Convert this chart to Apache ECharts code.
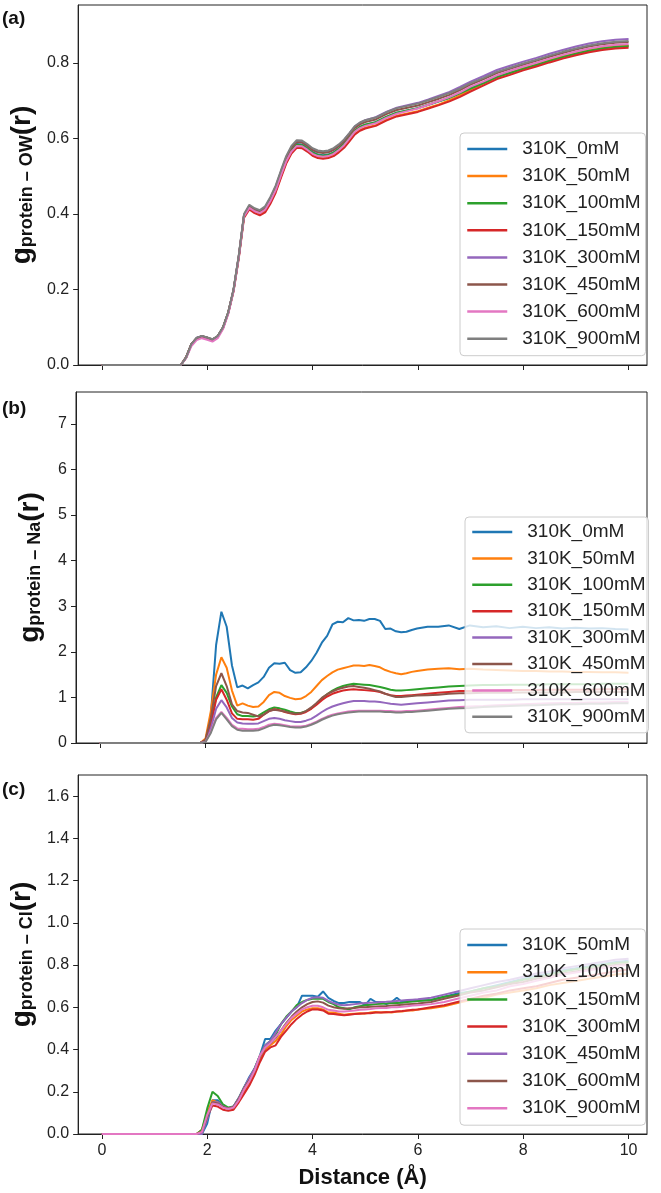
<!DOCTYPE html>
<html><head><meta charset="utf-8">
<script src="https://cdn.jsdelivr.net/npm/echarts@6/dist/echarts.min.js"></script>
<style>html,body{margin:0;padding:0;background:#fff}#c{width:661px;height:1193px}</style>
</head><body><div id="c"></div>
<script>
// ---------- DATA ----------
const seriesColors = ['#1f77b4','#ff7f0e','#2ca02c','#d62728','#9467bd','#8c564b','#e377c2','#7f7f7f'];
const xTicks = [0, 2, 4, 6, 8, 10];
const yTicksA = [0, 0.2, 0.4, 0.6, 0.8];
const yTicksB = [0, 1, 2, 3, 4, 5, 6, 7];
const yTicksC = [0, 0.2, 0.4, 0.6, 0.8, 1.0, 1.2, 1.4, 1.6];

// (a) protein - OW
const namesA = ['310K_0mM','310K_50mM','310K_100mM','310K_150mM','310K_300mM','310K_450mM','310K_600mM','310K_900mM'];
const distA = [0, 1.5,
  1.6, 1.7, 1.8, 1.9, 2.0, 2.1, 2.2, 2.3,
  2.4, 2.5, 2.6, 2.7, 2.8, 2.9, 3.0, 3.1, 3.2, 3.3,
  3.4, 3.5, 3.6, 3.7, 3.8, 3.9, 4.0, 4.1, 4.2, 4.3,
  4.4, 4.5, 4.6, 4.7, 4.8, 4.9, 5.0,
  5.2, 5.4, 5.6, 5.8, 6.0, 6.2, 6.4, 6.6, 6.8, 7.0,
  7.25, 7.5, 7.75, 8.0, 8.25, 8.5, 8.75, 9.0, 9.25, 9.5, 9.75, 10.0];
const ow0mM = [0, 0,
  0.02, 0.055, 0.071, 0.076, 0.072, 0.067, 0.076, 0.099,
  0.139, 0.198, 0.287, 0.396, 0.419, 0.409, 0.403, 0.412, 0.436, 0.465,
  0.505, 0.543, 0.570, 0.585, 0.584, 0.575, 0.564, 0.557, 0.555, 0.557,
  0.563, 0.573, 0.586, 0.602, 0.620, 0.630, 0.636,
  0.643, 0.657, 0.668, 0.674, 0.680, 0.689, 0.698, 0.708, 0.720, 0.733,
  0.747, 0.763, 0.774, 0.785, 0.795, 0.806, 0.816, 0.825, 0.833, 0.839, 0.843, 0.845];
const ow50mM = [0, 0,
  0.02, 0.055, 0.071, 0.076, 0.072, 0.067, 0.076, 0.099,
  0.139, 0.198, 0.287, 0.395, 0.417, 0.407, 0.400, 0.408, 0.431, 0.460,
  0.499, 0.536, 0.563, 0.578, 0.577, 0.568, 0.557, 0.551, 0.549, 0.551,
  0.557, 0.566, 0.578, 0.594, 0.612, 0.622, 0.628,
  0.635, 0.649, 0.660, 0.666, 0.672, 0.681, 0.690, 0.701, 0.714, 0.729,
  0.745, 0.762, 0.773, 0.785, 0.795, 0.806, 0.816, 0.825, 0.833, 0.839, 0.843, 0.845];
const ow100mM = [0, 0,
  0.02, 0.055, 0.071, 0.076, 0.072, 0.067, 0.076, 0.099,
  0.139, 0.198, 0.287, 0.396, 0.419, 0.409, 0.403, 0.412, 0.435, 0.464,
  0.504, 0.541, 0.568, 0.583, 0.582, 0.573, 0.562, 0.556, 0.554, 0.556,
  0.562, 0.572, 0.585, 0.602, 0.620, 0.630, 0.636,
  0.643, 0.657, 0.668, 0.674, 0.680, 0.689, 0.698, 0.707, 0.719, 0.732,
  0.746, 0.762, 0.773, 0.784, 0.794, 0.805, 0.815, 0.824, 0.832, 0.838, 0.842, 0.844];
const ow150mM = [0, 0,
  0.02, 0.054, 0.070, 0.075, 0.071, 0.066, 0.075, 0.097,
  0.137, 0.195, 0.283, 0.390, 0.412, 0.402, 0.396, 0.404, 0.427, 0.456,
  0.495, 0.533, 0.560, 0.575, 0.574, 0.565, 0.554, 0.548, 0.546, 0.548,
  0.553, 0.563, 0.575, 0.592, 0.610, 0.620, 0.626,
  0.633, 0.647, 0.658, 0.664, 0.670, 0.679, 0.688, 0.698, 0.710, 0.724,
  0.740, 0.757, 0.768, 0.780, 0.790, 0.801, 0.811, 0.820, 0.828, 0.834, 0.838, 0.840];
const ow300mM = [0, 0,
  0.02, 0.055, 0.072, 0.076, 0.072, 0.067, 0.076, 0.099,
  0.139, 0.199, 0.289, 0.398, 0.421, 0.412, 0.407, 0.417, 0.442, 0.472,
  0.512, 0.550, 0.577, 0.592, 0.591, 0.582, 0.571, 0.565, 0.563, 0.565,
  0.571, 0.582, 0.596, 0.613, 0.631, 0.641, 0.648,
  0.656, 0.670, 0.681, 0.688, 0.694, 0.703, 0.713, 0.723, 0.736, 0.750,
  0.765, 0.781, 0.792, 0.803, 0.813, 0.824, 0.834, 0.843, 0.851, 0.857, 0.861, 0.863];
const ow450mM = [0, 0,
  0.02, 0.055, 0.071, 0.076, 0.072, 0.067, 0.076, 0.099,
  0.139, 0.198, 0.288, 0.397, 0.420, 0.411, 0.406, 0.415, 0.440, 0.470,
  0.510, 0.548, 0.575, 0.590, 0.589, 0.580, 0.569, 0.563, 0.561, 0.563,
  0.569, 0.579, 0.592, 0.609, 0.627, 0.637, 0.643,
  0.650, 0.664, 0.675, 0.681, 0.687, 0.696, 0.705, 0.715, 0.728, 0.742,
  0.757, 0.773, 0.784, 0.795, 0.805, 0.816, 0.826, 0.835, 0.843, 0.849, 0.853, 0.855];
const ow600mM = [0, 0,
  0.018, 0.050, 0.066, 0.071, 0.067, 0.062, 0.071, 0.095,
  0.135, 0.195, 0.285, 0.394, 0.416, 0.407, 0.402, 0.411, 0.434, 0.463,
  0.502, 0.539, 0.565, 0.580, 0.579, 0.570, 0.559, 0.553, 0.551, 0.553,
  0.559, 0.569, 0.582, 0.599, 0.617, 0.627, 0.633,
  0.640, 0.654, 0.665, 0.672, 0.679, 0.689, 0.699, 0.709, 0.722, 0.737,
  0.751, 0.767, 0.779, 0.790, 0.800, 0.811, 0.821, 0.830, 0.838, 0.844, 0.848, 0.850];
const ow900mM = [0, 0,
  0.02, 0.055, 0.072, 0.077, 0.073, 0.068, 0.077, 0.100,
  0.140, 0.200, 0.290, 0.400, 0.424, 0.415, 0.410, 0.420, 0.445, 0.475,
  0.515, 0.553, 0.580, 0.595, 0.594, 0.585, 0.574, 0.568, 0.566, 0.568,
  0.574, 0.584, 0.597, 0.614, 0.632, 0.642, 0.648,
  0.655, 0.669, 0.680, 0.686, 0.692, 0.701, 0.710, 0.720, 0.732, 0.746,
  0.760, 0.776, 0.787, 0.798, 0.808, 0.819, 0.829, 0.838, 0.846, 0.852, 0.856, 0.858];

// (b) protein - Na
const namesB = ['310K_0mM','310K_50mM','310K_100mM','310K_150mM','310K_300mM','310K_450mM','310K_600mM','310K_900mM'];
const distB = [0, 1.9,
  2.0, 2.1, 2.2, 2.3, 2.4, 2.5, 2.6, 2.7, 2.8, 2.9,
  3.0, 3.1, 3.2, 3.3, 3.4, 3.5, 3.6, 3.7, 3.8, 3.9,
  4.0, 4.1, 4.2, 4.3, 4.4, 4.5, 4.6, 4.7, 4.8, 4.9,
  5.0, 5.1, 5.2, 5.3, 5.4, 5.5, 5.6, 5.7, 5.8, 5.9,
  6.0, 6.2, 6.4, 6.6, 6.8, 7.0,
  7.25, 7.5, 7.75, 8.0, 8.25, 8.5, 8.75, 9.0, 9.25, 9.5, 9.75, 10.0];
const na0mM = [0, 0,
  0.05, 0.6, 2.15, 2.88, 2.55, 1.7, 1.22, 1.26, 1.2, 1.27,
  1.33, 1.45, 1.65, 1.75, 1.74, 1.76, 1.6, 1.54, 1.55, 1.66,
  1.8, 1.98, 2.2, 2.35, 2.6, 2.66, 2.65, 2.74, 2.69, 2.70,
  2.68, 2.72, 2.72, 2.68, 2.5, 2.51, 2.45, 2.43, 2.44, 2.48,
  2.51, 2.55, 2.55, 2.58, 2.50, 2.58,
  2.54, 2.56, 2.52, 2.55, 2.52, 2.54, 2.51, 2.53, 2.51, 2.52, 2.50, 2.49];
const na50mM = [0, 0,
  0.1, 0.7, 1.5, 1.88, 1.65, 1.15, 0.82, 0.87, 0.82, 0.79,
  0.80, 0.9, 1.05, 1.12, 1.1, 1.03, 0.99, 0.96, 0.97, 1.03,
  1.12, 1.25, 1.38, 1.47, 1.55, 1.61, 1.64, 1.67, 1.70, 1.70,
  1.69, 1.71, 1.69, 1.66, 1.60, 1.56, 1.53, 1.51, 1.53, 1.56,
  1.58, 1.61, 1.63, 1.64, 1.62, 1.63,
  1.61, 1.60, 1.59, 1.58, 1.58, 1.57, 1.57, 1.56, 1.56, 1.55, 1.55, 1.54];
const na100mM = [0, 0,
  0.05, 0.45, 1.0, 1.27, 1.1, 0.8, 0.63, 0.59, 0.59, 0.58,
  0.6, 0.67, 0.74, 0.78, 0.76, 0.73, 0.69, 0.66, 0.66, 0.7,
  0.76, 0.86, 0.98, 1.07, 1.15, 1.21, 1.25, 1.28, 1.30, 1.29,
  1.28, 1.27, 1.25, 1.23, 1.20, 1.17, 1.15, 1.15, 1.16, 1.17,
  1.18, 1.20, 1.22, 1.24, 1.25, 1.26,
  1.27, 1.27, 1.28, 1.28, 1.28, 1.29, 1.29, 1.29, 1.29, 1.30, 1.30, 1.30];
const na150mM = [0, 0,
  0.05, 0.4, 0.95, 1.18, 0.95, 0.65, 0.53, 0.52, 0.52, 0.51,
  0.53, 0.62, 0.70, 0.74, 0.72, 0.68, 0.65, 0.63, 0.64, 0.68,
  0.75, 0.84, 0.94, 1.02, 1.08, 1.12, 1.15, 1.17, 1.18, 1.17,
  1.16, 1.15, 1.14, 1.12, 1.08, 1.05, 1.03, 1.03, 1.04, 1.05,
  1.06, 1.08, 1.10, 1.12, 1.14, 1.14,
  1.15, 1.15, 1.16, 1.16, 1.16, 1.17, 1.17, 1.17, 1.17, 1.18, 1.18, 1.18];
const na300mM = [0, 0,
  0.04, 0.32, 0.75, 0.94, 0.78, 0.55, 0.45, 0.43, 0.42, 0.42,
  0.43, 0.48, 0.53, 0.55, 0.53, 0.50, 0.48, 0.46, 0.46, 0.49,
  0.53, 0.60, 0.68, 0.75, 0.80, 0.84, 0.87, 0.90, 0.92, 0.92,
  0.92, 0.91, 0.91, 0.90, 0.88, 0.86, 0.85, 0.84, 0.85, 0.86,
  0.87, 0.89, 0.91, 0.93, 0.94, 0.95,
  0.95, 0.95, 0.95, 0.96, 0.96, 0.96, 0.96, 0.96, 0.96, 0.96, 0.96, 0.96];
const na450mM = [0, 0,
  0.07, 0.55, 1.25, 1.53, 1.25, 0.85, 0.70, 0.67, 0.66, 0.62,
  0.58, 0.62, 0.70, 0.73, 0.71, 0.69, 0.66, 0.64, 0.65, 0.70,
  0.78, 0.88, 0.99, 1.07, 1.13, 1.18, 1.21, 1.24, 1.25, 1.23,
  1.21, 1.19, 1.16, 1.13, 1.08, 1.04, 1.01, 1.01, 1.02, 1.03,
  1.04, 1.05, 1.06, 1.08, 1.09, 1.09,
  1.10, 1.10, 1.10, 1.11, 1.11, 1.11, 1.11, 1.12, 1.12, 1.12, 1.12, 1.12];
const na600mM = [0, 0,
  0.03, 0.25, 0.55, 0.68, 0.55, 0.40, 0.32, 0.31, 0.30, 0.30,
  0.31, 0.35, 0.40, 0.42, 0.41, 0.39, 0.37, 0.36, 0.36, 0.38,
  0.42, 0.47, 0.53, 0.58, 0.62, 0.65, 0.67, 0.69, 0.70, 0.71,
  0.71, 0.71, 0.71, 0.71, 0.70, 0.70, 0.69, 0.69, 0.70, 0.70,
  0.71, 0.73, 0.75, 0.77, 0.79, 0.80,
  0.81, 0.83, 0.84, 0.85, 0.86, 0.87, 0.88, 0.88, 0.89, 0.89, 0.90, 0.90];
const na900mM = [0, 0,
  0.02, 0.22, 0.52, 0.66, 0.52, 0.37, 0.29, 0.27, 0.27, 0.27,
  0.28, 0.32, 0.37, 0.40, 0.39, 0.37, 0.35, 0.34, 0.34, 0.36,
  0.40, 0.45, 0.51, 0.56, 0.60, 0.63, 0.65, 0.67, 0.68, 0.69,
  0.69, 0.69, 0.69, 0.69, 0.68, 0.68, 0.67, 0.67, 0.68, 0.68,
  0.69, 0.71, 0.73, 0.75, 0.76, 0.77,
  0.79, 0.80, 0.81, 0.82, 0.83, 0.84, 0.85, 0.85, 0.86, 0.86, 0.87, 0.87];

// (c) protein - Cl
const namesC = ['310K_50mM','310K_100mM','310K_150mM','310K_300mM','310K_450mM','310K_600mM','310K_900mM'];
const distC = [0, 1.8, 1.9,
  2.0, 2.1, 2.2, 2.3, 2.4, 2.5, 2.6, 2.7, 2.8, 2.9,
  3.0, 3.1, 3.2, 3.3, 3.4, 3.5, 3.6, 3.7, 3.8, 3.9,
  4.0, 4.1, 4.2, 4.3, 4.4, 4.5, 4.6, 4.7, 4.8, 4.9,
  5.0, 5.1, 5.2, 5.3, 5.4, 5.5, 5.6, 5.7, 5.8, 5.9,
  6.0,
  6.25, 6.5, 6.75, 7.0, 7.25, 7.5, 7.75, 8.0, 8.25, 8.5, 8.75, 9.0, 9.25, 9.5, 9.75, 10.0];
const cl50mM = [0, 0, 0,
  0.05, 0.16, 0.16, 0.13, 0.12, 0.13, 0.17, 0.22, 0.27, 0.31,
  0.37, 0.45, 0.45, 0.49, 0.52, 0.55, 0.58, 0.60, 0.655, 0.655,
  0.655, 0.65, 0.675, 0.645, 0.63, 0.62, 0.62, 0.625, 0.625, 0.625,
  0.61, 0.64, 0.625, 0.625, 0.615, 0.625, 0.645, 0.625, 0.63, 0.63,
  0.632,
  0.635, 0.65, 0.665, 0.675, 0.69, 0.705, 0.72, 0.735, 0.75, 0.76, 0.775, 0.785, 0.795, 0.805, 0.815, 0.82];
const cl100mM = [0, 0, 0.02,
  0.1, 0.16, 0.15, 0.13, 0.12, 0.12, 0.155, 0.2, 0.24, 0.29,
  0.35, 0.40, 0.42, 0.44, 0.47, 0.51, 0.54, 0.56, 0.58, 0.59,
  0.595, 0.595, 0.59, 0.575, 0.575, 0.57, 0.565, 0.568, 0.57, 0.572,
  0.57, 0.575, 0.578, 0.575, 0.578, 0.575, 0.58, 0.58, 0.585, 0.585,
  0.59,
  0.595, 0.605, 0.62, 0.635, 0.645, 0.66, 0.67, 0.68, 0.69, 0.705, 0.715, 0.725, 0.735, 0.745, 0.755, 0.76];
const cl150mM = [0, 0, 0.02,
  0.12, 0.20, 0.18, 0.14, 0.125, 0.13, 0.17, 0.22, 0.26, 0.31,
  0.37, 0.42, 0.44, 0.47, 0.52, 0.555, 0.58, 0.61, 0.625, 0.635,
  0.64, 0.64, 0.64, 0.625, 0.615, 0.60, 0.595, 0.59, 0.60, 0.605,
  0.61, 0.612, 0.615, 0.617, 0.618, 0.62, 0.62, 0.622, 0.625, 0.627,
  0.63,
  0.635, 0.65, 0.66, 0.675, 0.69, 0.70, 0.715, 0.73, 0.74, 0.755, 0.77, 0.78, 0.79, 0.80, 0.81, 0.815];
const cl300mM = [0, 0, 0.01,
  0.08, 0.135, 0.13, 0.115, 0.11, 0.115, 0.15, 0.19, 0.23, 0.28,
  0.34, 0.39, 0.41, 0.42, 0.46, 0.49, 0.52, 0.545, 0.565, 0.58,
  0.59, 0.59, 0.585, 0.57, 0.568, 0.565, 0.562, 0.565, 0.568, 0.57,
  0.572, 0.572, 0.575, 0.575, 0.577, 0.578, 0.58, 0.582, 0.585, 0.588,
  0.59,
  0.60, 0.61, 0.625, 0.64, 0.655, 0.665, 0.68, 0.69, 0.70, 0.715, 0.73, 0.74, 0.75, 0.76, 0.77, 0.78];
const cl450mM = [0, 0, 0,
  0.07, 0.15, 0.15, 0.13, 0.12, 0.13, 0.17, 0.22, 0.265, 0.31,
  0.37, 0.42, 0.44, 0.48, 0.52, 0.55, 0.58, 0.60, 0.62, 0.635,
  0.645, 0.648, 0.645, 0.63, 0.62, 0.612, 0.61, 0.612, 0.615, 0.618,
  0.62, 0.622, 0.623, 0.625, 0.626, 0.628, 0.63, 0.632, 0.634, 0.636,
  0.638,
  0.645, 0.66, 0.675, 0.69, 0.705, 0.72, 0.73, 0.745, 0.76, 0.77, 0.785, 0.795, 0.805, 0.815, 0.825, 0.83];
const cl600mM = [0, 0, 0.01,
  0.08, 0.15, 0.145, 0.128, 0.12, 0.128, 0.165, 0.215, 0.255, 0.30,
  0.365, 0.41, 0.43, 0.455, 0.49, 0.525, 0.555, 0.58, 0.60, 0.615,
  0.625, 0.628, 0.622, 0.608, 0.60, 0.595, 0.593, 0.595, 0.597, 0.60,
  0.60, 0.602, 0.604, 0.605, 0.606, 0.608, 0.61, 0.612, 0.614, 0.616,
  0.618,
  0.625, 0.64, 0.655, 0.67, 0.68, 0.695, 0.71, 0.72, 0.735, 0.745, 0.76, 0.77, 0.78, 0.79, 0.80, 0.805];
const cl900mM = [0, 0, 0.01,
  0.09, 0.145, 0.14, 0.125, 0.118, 0.125, 0.16, 0.21, 0.25, 0.30,
  0.37, 0.41, 0.43, 0.46, 0.49, 0.52, 0.55, 0.57, 0.59, 0.60,
  0.607, 0.607, 0.60, 0.588, 0.585, 0.58, 0.58, 0.582, 0.585, 0.588,
  0.59, 0.592, 0.595, 0.597, 0.597, 0.60, 0.60, 0.602, 0.605, 0.608,
  0.61,
  0.615, 0.625, 0.64, 0.655, 0.67, 0.68, 0.70, 0.71, 0.725, 0.74, 0.755, 0.765, 0.775, 0.785, 0.795, 0.80];

// ---------- CHART ----------
const FONT = "'Liberation Sans', Arial, sans-serif";
const INK = '#222';
const gridsPx = [
  {top: 5, height: 360},
  {top: 392, height: 351},
  {top: 775, height: 359}
];
const yMax = [0.953, 7.7, 1.7];
const yTicks = [yTicksA, yTicksB, yTicksC];
const yFmt = [v => v.toFixed(1), v => String(Math.round(v)), v => v.toFixed(1)];
const ySub = ['protein \u2013 OW', 'protein \u2013 Na', 'protein \u2013 Cl'];

function xAxis(i) {
  const last = i === 2;
  return {
    type: 'value', gridIndex: i, min: -0.45, max: 10.35,
    axisLine: {show: true, onZero: false, lineStyle: {color: INK, width: 1}},
    axisTick: {show: true, length: 5, customValues: xTicks, lineStyle: {color: INK, width: 1}},
    axisLabel: {show: last, customValues: xTicks, margin: 9, fontSize: 16, color: INK, fontFamily: FONT},
    splitLine: {show: false},
    name: last ? 'Distance (\u00c5)' : '',
    nameLocation: 'middle', nameGap: 33,
    nameTextStyle: {fontSize: 22, fontWeight: 'bold', color: '#111', fontFamily: FONT}
  };
}
function yAxis(i) {
  return {
    type: 'value', gridIndex: i, min: 0, max: yMax[i],
    axisLine: {show: true, onZero: false, lineStyle: {color: INK, width: 1}},
    axisTick: {show: true, length: 5, customValues: yTicks[i], lineStyle: {color: INK, width: 1}},
    axisLabel: {show: true, customValues: yTicks[i], margin: 9, fontSize: 16, color: INK, fontFamily: FONT,
      formatter: yFmt[i]},
    splitLine: {show: false},
    name: '{g|g}{s|' + ySub[i] + '}{g|(r)}',
    nameLocation: 'middle', nameRotate: 90, nameGap: 32,
    nameTextStyle: {
      rich: {
        g: {fontSize: 28, fontWeight: 'bold', color: '#111', fontFamily: FONT, verticalAlign: 'bottom', lineHeight: 30},
        s: {fontSize: 18, fontWeight: 'bold', color: '#111', fontFamily: FONT, verticalAlign: 'bottom', lineHeight: 18}
      }
    }
  };
}
function mkSeries(tag, gi, names, dist, ysList) {
  return names.map((n, k) => ({
    name: tag + '|' + n, type: 'line', xAxisIndex: gi, yAxisIndex: gi,
    data: dist.map((x, j) => [x, ysList[k][j]]),
    symbol: 'none', showSymbol: false, smooth: false,
    lineStyle: {width: 2, color: seriesColors[k]},
    itemStyle: {color: seriesColors[k]},
    emphasis: {disabled: true}
  }));
}
const sA = mkSeries('a', 0, namesA, distA, [ow0mM, ow50mM, ow100mM, ow150mM, ow300mM, ow450mM, ow600mM, ow900mM]);
const sB = mkSeries('b', 1, namesB, distB, [na0mM, na50mM, na100mM, na150mM, na300mM, na450mM, na600mM, na900mM]);
const sC = mkSeries('c', 2, namesC, distC, [cl50mM, cl100mM, cl150mM, cl300mM, cl450mM, cl600mM, cl900mM]);

function legend(series, left, top, gap, pad) {
  return {
    data: series.map(s => s.name), orient: 'vertical', left: left, top: top,
    itemWidth: 40, itemHeight: 14, itemGap: gap, padding: pad,
    backgroundColor: 'rgba(255,255,255,0.8)', borderColor: '#cccccc', borderWidth: 1, borderRadius: 4,
    formatter: n => n.split('|')[1],
    itemStyle: {opacity: 0, borderWidth: 0},
    lineStyle: {width: 2.5},
    textStyle: {fontSize: 19, color: INK, fontFamily: FONT, lineHeight: 20, padding: [0, 0, 0, 10]},
    selectedMode: false
  };
}

const option = {
  animation: false,
  backgroundColor: '#fff',
  title: [
    {text: '(a)', left: 2, top: 9, padding: 0, textStyle: {fontSize: 19, fontWeight: 'bold', color: '#111', fontFamily: FONT}},
    {text: '(b)', left: 2, top: 399, padding: 0, textStyle: {fontSize: 19, fontWeight: 'bold', color: '#111', fontFamily: FONT}},
    {text: '(c)', left: 2, top: 780, padding: 0, textStyle: {fontSize: 19, fontWeight: 'bold', color: '#111', fontFamily: FONT}}
  ],
  grid: gridsPx.map(g => ({left: 76, width: 571, top: g.top, height: g.height, show: true,
    borderColor: INK, borderWidth: 1, backgroundColor: 'transparent', containLabel: false})),
  xAxis: [xAxis(0), xAxis(1), xAxis(2)],
  yAxis: [yAxis(0), yAxis(1), yAxis(2)],
  legend: [
    legend(sA, 460, 133, 7.1, [6, 5, 7, 6]),
    legend(sB, 465, 517, 6.4, [5, 3, 6, 6]),
    legend(sC, 460, 929, 7.2, [6, 5, 7, 6])
  ],
  series: sA.concat(sB, sC)
};
const chart = echarts.init(document.getElementById('c'), null, {renderer: 'canvas', width: 661, height: 1193});
chart.setOption(option);
</script>
</body></html>
